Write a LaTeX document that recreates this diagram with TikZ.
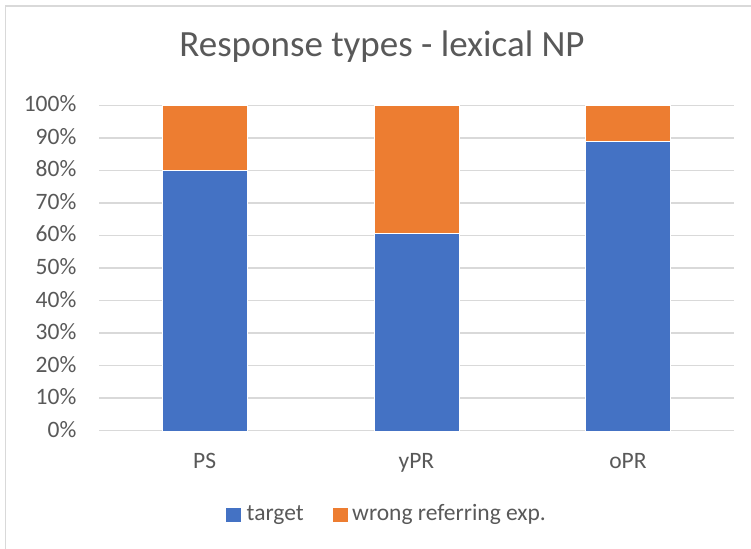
\documentclass[tikz,border=0pt]{standalone}
\usepackage{fontspec}
\setmainfont{Carlito}
\definecolor{txtgray}{HTML}{595959}
\definecolor{gridgray}{HTML}{D9D9D9}
\definecolor{barblue}{HTML}{4472C4}
\definecolor{barorange}{HTML}{ED7D31}
\tikzset{
  gridline/.style={draw=gridgray, line width=1.4pt},
  chartfont/.style={text=txtgray, font=\fontsize{23.5}{28}\selectfont, inner sep=0pt},
  ticklabel/.style={chartfont, anchor=base east},
  catlabel/.style={chartfont, anchor=base},
  legendtext/.style={chartfont, anchor=base west},
  barT/.style={fill=barblue, draw=white, line width=0.4pt},
  barW/.style={fill=barorange, draw=white, line width=0.4pt},
}
\begin{document}
\begin{tikzpicture}[x=1pt,y=-1pt]
  % canvas and chart frame
  \fill[white] (0,0) rectangle (751,548);
  \useasboundingbox (0,0) rectangle (751,548);
  \draw[gridgray, line width=1.4pt] (5.3,560) -- (5.3,6) -- (760,6);

  % title
  \node[text=txtgray, font=\fontsize{37}{44}\selectfont, inner sep=0pt, anchor=base] (title) at (382,57) {Response types - lexical NP};

  % horizontal grid and percentage labels (0% at y=430.7, 100% at y=105.3)
  \foreach \i in {0,...,10} {
    \pgfmathsetmacro{\yy}{430.7-32.54*\i}
    \draw[gridline] (99.3,\yy) -- (733.7,\yy);
    \node[ticklabel] (tick\i) at (76.5,\yy+6.5) {\the\numexpr\i*10\relax\%};
  }

  % stacked bars: target share, then remainder
  \foreach \name/\cx/\val in {PS/204.6/80.2, yPR/416.4/60.6, oPR/628/89.0} {
    \pgfmathsetmacro{\ytop}{430.7-3.254*\val}
    \filldraw[barT] (\cx-42.5,430.7) rectangle (\cx+42.5,\ytop);
    \filldraw[barW] (\cx-42.5,\ytop) rectangle (\cx+42.5,105.3);
    \node[catlabel] (cat\name) at (\cx,468.5) {\name};
  }

  % legend
  \fill[barblue] (226,508) rectangle (240.5,522);
  \node[legendtext] (legT) at (246.5,520.5) {target};
  \fill[barorange] (333,508) rectangle (347.5,522);
  \node[legendtext] (legW) at (352,520.5) {wrong referring exp.};
\end{tikzpicture}
\end{document}
